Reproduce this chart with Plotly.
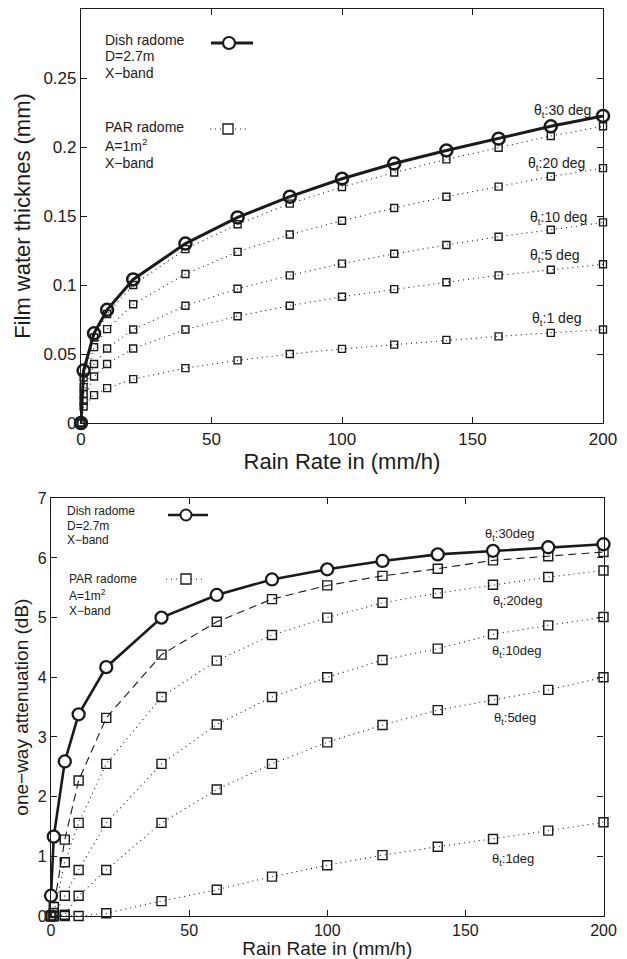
import plotly.graph_objects as go

W, H = 627, 959
FONT = "Liberation Sans, Arial, Helvetica, sans-serif"
INK = "#1a1a1a"

# ---------------- data ----------------
rain = [0, 1, 5, 10, 20, 40, 60, 80, 100, 120, 140, 160, 180, 200]

film_dish = [0, 0.038, 0.065, 0.082, 0.104, 0.130, 0.149, 0.164, 0.177, 0.188, 0.1975, 0.206, 0.215, 0.2225]
film_par30 = [0, 0.033, 0.062, 0.079, 0.100, 0.126, 0.144, 0.159, 0.171, 0.1815, 0.191, 0.1995, 0.208, 0.215]
film_par20 = [0, 0.026, 0.055, 0.068, 0.086, 0.108, 0.124, 0.1366, 0.1466, 0.1558, 0.164, 0.1713, 0.1786, 0.1847]
film_par10 = [0, 0.021, 0.0427, 0.054, 0.0677, 0.085, 0.0973, 0.107, 0.1155, 0.1226, 0.129, 0.135, 0.140, 0.1454]
film_par5 = [0, 0.016, 0.0337, 0.0427, 0.054, 0.0677, 0.0774, 0.085, 0.0915, 0.097, 0.102, 0.107, 0.111, 0.115]
film_par1 = [0, 0.012, 0.0202, 0.0253, 0.0318, 0.0398, 0.0454, 0.050, 0.0537, 0.0568, 0.0602, 0.0628, 0.0653, 0.0677]

att_dish = [0.34, 1.33, 2.59, 3.38, 4.17, 5.0, 5.38, 5.64, 5.81, 5.95, 6.06, 6.12, 6.18, 6.23]
att_par30 = [0, 0.15, 1.28, 2.27, 3.32, 4.38, 4.93, 5.31, 5.54, 5.70, 5.82, 5.96, 6.03, 6.10]
att_par20 = [0, 0.05, 0.90, 1.56, 2.55, 3.67, 4.28, 4.71, 5.00, 5.25, 5.41, 5.55, 5.68, 5.79]
att_par10 = [0, 0, 0.34, 0.77, 1.56, 2.55, 3.21, 3.67, 4.00, 4.29, 4.48, 4.72, 4.87, 5.01]
att_par5 = [0, 0, 0.02, 0.34, 0.77, 1.56, 2.12, 2.55, 2.91, 3.20, 3.45, 3.62, 3.79, 4.00]
att_par1 = [0, 0, 0, 0, 0.045, 0.25, 0.44, 0.66, 0.85, 1.02, 1.16, 1.29, 1.43, 1.57]

x_ticks = [0, 50, 100, 150, 200]
film_ticks = [0, 0.05, 0.1, 0.15, 0.2, 0.25]
film_tick_text = ["0", "0.05", "0.1", "0.15", "0.2", "0.25"]
att_ticks = [0, 1, 2, 3, 4, 5, 6, 7]

top_labels = ["θ<sub>t</sub>:30 deg", "θ<sub>t</sub>:20 deg", "θ<sub>t</sub>:10 deg",
              "θ<sub>t</sub>:5 deg", "θ<sub>t</sub>:1 deg"]
bot_labels = ["θ<sub>t</sub>:30deg", "θ<sub>t</sub>:20deg", "θ<sub>t</sub>:10deg",
              "θ<sub>t</sub>:5deg", "θ<sub>t</sub>:1deg"]
legend_dish = ["Dish radome", "D=2.7m", "X−band"]
legend_par = ["PAR radome", "A=1m<sup>2</sup>", "X−band"]

# ---------------- figure ----------------
fig = go.Figure()
DOT = "1px,4px"

def par_trace(y, xa, ya, size, dash=DOT):
    return go.Scatter(x=rain, y=y, xaxis=xa, yaxis=ya, mode="lines+markers",
                      cliponaxis=False,
                      line=dict(color=INK, width=1.1, dash=dash),
                      marker=dict(symbol="square-open", size=size, color=INK,
                                  line=dict(width=1.4, color=INK)),
                      showlegend=False, hoverinfo="skip")

# top panel
for y in [film_par30, film_par20, film_par10, film_par5, film_par1]:
    fig.add_trace(par_trace(y, "x", "y", 7))
fig.add_trace(go.Scatter(x=rain, y=film_dish, xaxis="x", yaxis="y", mode="lines+markers",
                         cliponaxis=False,
                         line=dict(color=INK, width=3),
                         marker=dict(symbol="circle-open", size=12, color=INK,
                                     line=dict(width=2.5, color=INK)),
                         showlegend=False, hoverinfo="skip"))

# bottom panel
fig.add_trace(par_trace(att_par30, "x2", "y2", 9, dash="8px,5px"))
for y in [att_par20, att_par10, att_par5, att_par1]:
    fig.add_trace(par_trace(y, "x2", "y2", 9))
fig.add_trace(go.Scatter(x=rain, y=att_dish, xaxis="x2", yaxis="y2", mode="lines+markers",
                         cliponaxis=False,
                         line=dict(color=INK, width=2.6),
                         marker=dict(symbol="circle", size=12, color="white",
                                     line=dict(width=2.3, color=INK)),
                         showlegend=False, hoverinfo="skip"))

def px(x):
    return x / W

def py(y):
    return 1 - y / H

axis_common = dict(showline=True, linecolor=INK, linewidth=1.2, mirror="ticks",
                   ticks="inside", ticklen=6, tickcolor=INK, tickwidth=1,
                   showgrid=False, zeroline=False, automargin=False)

fig.update_layout(
    width=W, height=H, margin=dict(l=0, r=0, t=0, b=0, autoexpand=False),
    paper_bgcolor="white", plot_bgcolor="white",
    font=dict(family=FONT, color=INK),
    xaxis=dict(axis_common, domain=[px(81), px(603)], range=[0, 200], anchor="y",
               tickvals=x_ticks, tickfont=dict(size=17),
               title=dict(text="Rain Rate in (mm/h)", font=dict(size=22), standoff=6)),
    yaxis=dict(axis_common, domain=[py(423), py(9)], range=[0, 0.3], anchor="x",
               tickvals=film_ticks, ticktext=film_tick_text, tickfont=dict(size=17),
               title=dict(text="Film water thicknes (mm)", font=dict(size=22), standoff=6)),
    xaxis2=dict(axis_common, domain=[px(51), px(603.5)], range=[0, 200], anchor="y2",
                tickvals=x_ticks, tickfont=dict(size=16),
                title=dict(text="Rain Rate in (mm/h)", font=dict(size=19), standoff=2)),
    yaxis2=dict(axis_common, domain=[py(916), py(498.3)], range=[0, 7], anchor="x2",
                tickvals=att_ticks, tickfont=dict(size=16),
                title=dict(text="one−way attenuation (dB)", font=dict(size=19), standoff=4)),
)

ann = []
# theta labels (data coordinates)
top_lab_pos = [(184.6, 0.2264), (182.3, 0.188), (183, 0.1485), (181.5, 0.1209), (182.3, 0.0757)]
for t, (x, y) in zip(top_labels, top_lab_pos):
    ann.append(dict(text=t, x=x, y=y, xref="x", yref="y", showarrow=False,
                    font=dict(size=14, family=FONT, color=INK), xanchor="center", yanchor="middle"))
bot_lab_pos = [(166.3, 6.40), (169.2, 5.27), (168.8, 4.43), (168.1, 3.31), (167.4, 0.955)]
for t, (x, y) in zip(bot_labels, bot_lab_pos):
    ann.append(dict(text=t, x=x, y=y, xref="x2", yref="y2", showarrow=False,
                    font=dict(size=13, family=FONT, color=INK), xanchor="center", yanchor="middle"))

# legend texts
for i, t in enumerate(legend_dish):
    ann.append(dict(text=t, x=px(103), y=py(40 + 16.5 * i), xref="paper", yref="paper",
                    showarrow=False, xanchor="left", yanchor="middle",
                    font=dict(size=14, family=FONT, color=INK)))
for i, t in enumerate(legend_par):
    ann.append(dict(text=t, x=px(103), y=py(127 + 18 * i), xref="paper", yref="paper",
                    showarrow=False, xanchor="left", yanchor="middle",
                    font=dict(size=14, family=FONT, color=INK)))
for i, t in enumerate(legend_dish):
    ann.append(dict(text=t, x=px(65), y=py(511 + 14.5 * i), xref="paper", yref="paper",
                    showarrow=False, xanchor="left", yanchor="middle",
                    font=dict(size=12, family=FONT, color=INK)))
for i, t in enumerate(legend_par):
    ann.append(dict(text=t, x=px(67), y=py(579 + 16 * i), xref="paper", yref="paper",
                    showarrow=False, xanchor="left", yanchor="middle",
                    font=dict(size=12, family=FONT, color=INK)))
fig.update_layout(annotations=ann)

# legend samples (shapes in paper coords)
shapes = []
def hline(x0, x1, y, width, dash="solid"):
    shapes.append(dict(type="line", xref="paper", yref="paper",
                       x0=px(x0), x1=px(x1), y0=py(y), y1=py(y),
                       line=dict(color=INK, width=width, dash=dash)))

def sym(kind, cx, cy, r, lw, fill="white"):
    shapes.append(dict(type=kind, xref="paper", yref="paper",
                       xsizemode="pixel", ysizemode="pixel",
                       xanchor=px(cx), yanchor=py(cy),
                       x0=-r, x1=r, y0=-r, y1=r,
                       fillcolor=fill, line=dict(color=INK, width=lw)))

hline(211, 253, 43, 3)
sym("circle", 229, 43, 6, 2.2)
hline(210, 248, 129, 1, DOT)
sym("rect", 228, 129, 5, 1.3)

hline(168, 208, 515, 2.6)
sym("circle", 186, 515, 5.5, 2.0)
hline(166, 205, 579, 1, DOT)
sym("rect", 186, 579, 5, 1.3)
fig.update_layout(shapes=shapes)

fig.write_html("out.html")
